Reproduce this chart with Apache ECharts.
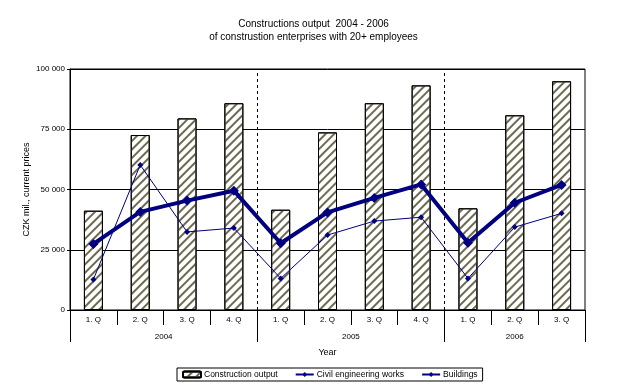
<!DOCTYPE html>
<html>
<head>
<meta charset="utf-8">
<script src="https://cdn.jsdelivr.net/npm/echarts@6/dist/echarts.min.js"></script>
<style>
  html, body { margin: 0; padding: 0; background: #fff; }
  #chart { width: 627px; height: 390px; }
</style>
</head>
<body>
<div id="chart"></div>
<script>
// données
const quarters = ["1. Q", "2. Q", "3. Q", "4. Q", "1. Q", "2. Q", "3. Q", "4. Q", "1. Q", "2. Q", "3. Q"];
const years = ["2004", "2005", "2006"];
const yearBounds = [0, 4, 8, 11];
const yearCenters = [2, 6, 9.5];
const constructionOutput = [41200, 72600, 79500, 85800, 41600, 73700, 85800, 93200, 42200, 80800, 94900];
const civilWorks = [27400, 40700, 45400, 49500, 27700, 40500, 46500, 52100, 27900, 44500, 51900];
const buildings = [12700, 60200, 32400, 34000, 13100, 31100, 36900, 38500, 13100, 34400, 40100];

const FONT = "Liberation Sans, Arial, sans-serif";
const NAVY = "#000080";

function fmtThousands(v) {
  return String(v).replace(/\B(?=(\d{3})+(?!\d))/g, " ");
}

const chart = echarts.init(document.getElementById("chart"));

const option = {
  animation: false,
  backgroundColor: "#fff",
  textStyle: { fontFamily: FONT, color: "#000" },
  title: {
    text: "Constructions output  2004 - 2006\nof construstion enterprises with 20+ employees",
    left: "center",
    top: 13,
    textStyle: { fontSize: 10, fontWeight: "normal", lineHeight: 13, fontFamily: FONT, color: "#000" },
  },
  legend: {
    bottom: 9,
    left: 177,
    itemGap: 17,
    itemWidth: 18,
    itemHeight: 6,
    padding: [2, 5],
    borderColor: "#000",
    borderWidth: 1,
    borderRadius: 0,
    textStyle: { fontSize: 8.5, fontFamily: FONT, color: "#000", padding: [0, 0, 0, -2] },
    data: ["Construction output", "Civil engineering works", "Buildings"],
  },
  grid: {
    left: 70,
    right: 42,
    top: 69,
    bottom: 80,
    show: true,
    borderColor: "#000",
    borderWidth: 1,
  },
  xAxis: [
    {
      type: "category",
      data: quarters,
      position: "bottom",
      boundaryGap: true,
      axisLine: { lineStyle: { color: "#000", width: 1 } },
      axisTick: { show: true, interval: 0, length: 15, lineStyle: { color: "#000" } },
      axisLabel: { interval: 0, fontSize: 8, margin: 6, color: "#000" },
      splitLine: { show: false },
    },
    {
      type: "value",
      min: 0,
      max: 11,
      position: "bottom",
      name: "Year",
      nameLocation: "middle",
      nameGap: 38,
      nameMoveOverlap: false,
      nameTextStyle: { fontSize: 9, color: "#000" },
      axisLine: { show: false },
      axisTick: { show: true, length: 32, customValues: yearBounds, lineStyle: { color: "#000" } },
      axisLabel: {
        customValues: yearCenters,
        fontSize: 8,
        margin: 23,
        color: "#000",
        formatter: function (v) {
          return years[yearCenters.indexOf(v)] || "";
        },
      },
      splitLine: { show: false },
    },
  ],
  yAxis: {
    type: "value",
    min: 0,
    max: 100000,
    interval: 25000,
    name: "CZK mil., current prices",
    nameLocation: "middle",
    nameRotate: 90,
    nameGap: 39,
    nameMoveOverlap: false,
    nameTextStyle: { fontSize: 9, color: "#000" },
    axisLine: { show: true, lineStyle: { color: "#000" } },
    axisTick: { show: true, length: 3, lineStyle: { color: "#000" } },
    axisLabel: { fontSize: 8, margin: 5, color: "#000", formatter: fmtThousands },
    splitLine: { show: true, lineStyle: { color: "#000", width: 1 } },
  },
  series: [
    {
      name: "Construction output",
      type: "bar",
      data: constructionOutput,
      barWidth: 19,
      itemStyle: {
        color: "#fff",
        borderColor: "#000",
        borderWidth: 1,
        decal: {
          symbol: "rect",
          symbolSize: 1,
          color: "#6e6a50",
          dashArrayX: [1, 0],
          dashArrayY: [2, 4],
          rotation: -Math.PI / 4,
        },
      },
      z: 2,
    },
    {
      name: "Civil engineering works",
      type: "line",
      data: civilWorks,
      symbol: "diamond",
      symbolSize: 10,
      lineStyle: { color: NAVY, width: 4 },
      itemStyle: { color: NAVY },
      z: 4,
    },
    {
      name: "Buildings",
      type: "line",
      data: buildings,
      symbol: "diamond",
      symbolSize: 6,
      lineStyle: { color: NAVY, width: 1 },
      itemStyle: { color: NAVY },
      z: 3,
    },
    {
      // séparateurs d'années (pointillés)
      type: "line",
      xAxisIndex: 1,
      data: [],
      silent: true,
      markLine: {
        symbol: "none",
        silent: true,
        label: { show: false },
        lineStyle: { color: "#000", type: [3, 3], width: 1 },
        data: [{ xAxis: yearBounds[1] }, { xAxis: yearBounds[2] }],
      },
      z: 1,
    },
  ],
};

chart.setOption(option);
</script>
</body>
</html>
